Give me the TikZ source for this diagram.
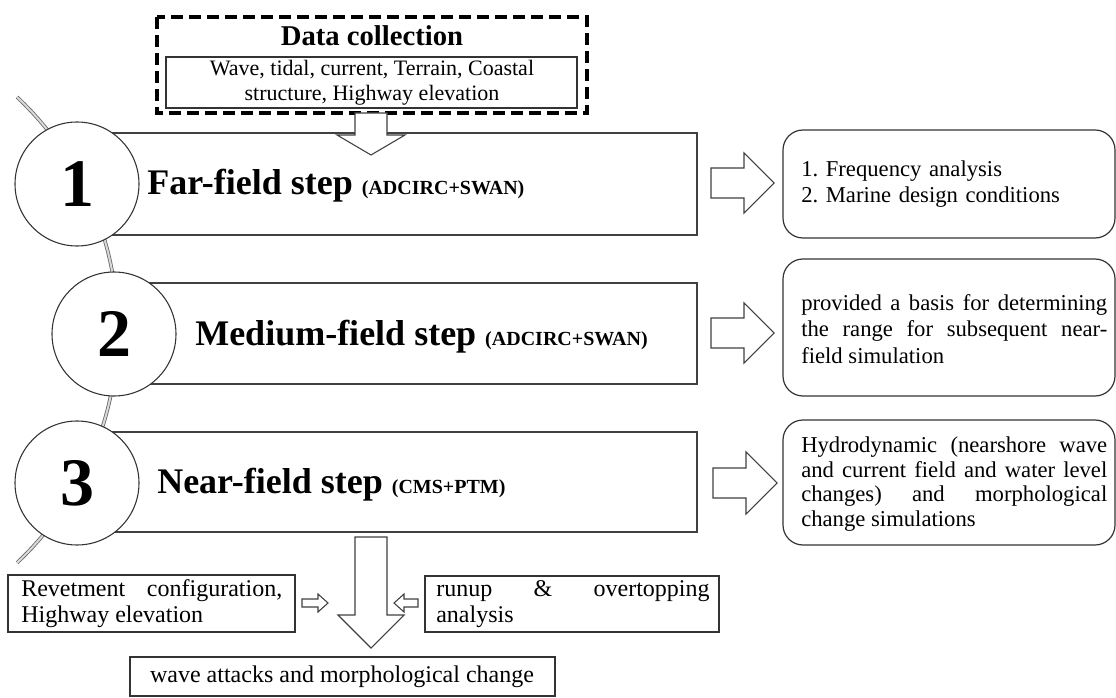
\documentclass[tikz,border=0pt]{standalone}
\usepackage{fontspec}
\setmainfont{Liberation Serif}
\usepackage{tikz}
\usetikzlibrary{calc}
\frenchspacing
\def\blockarrowh(#1,#2)(#3:#4:#5:#6){\draw[hollow] (#1,#2-#5) -- (#3,#2-#5) -- (#3,#2-#6) -- (#4,#2) -- (#3,#2+#6) -- (#3,#2+#5) -- (#1,#2+#5) -- cycle;}
\def\blockarrowv(#1,#2)(#3:#4:#5:#6){\draw[hollow] (#1-#5,#2) -- (#1-#5,#3) -- (#1-#6,#3) -- (#1,#4) -- (#1+#6,#3) -- (#1+#5,#3) -- (#1+#5,#2) -- cycle;}

\begin{document}
\begin{tikzpicture}[x=0.75pt, y=-0.75pt,
	hollow/.style={draw=black!75, line width=0.8pt, fill=white},
	stepbox/.style={draw=black!75, line width=1pt},
	thinbox/.style={draw=black!80, line width=0.8pt},
	outbox/.style={draw=black!80, line width=0.9pt, rounded corners=15pt},
	dashbox/.style={draw=black, line width=2.7pt, dash pattern=on 9pt off 4.5pt},
	rod/.style={draw=black!60, double=black!15, line width=0.6pt, double distance=1.5pt},
	numcircle/.style={circle, draw=black!80, line width=0.8pt, fill=white, minimum size=93pt, inner sep=0pt, font=\fontsize{51}{51}\selectfont\bfseries},
	steptext/.style={anchor=base west, inner sep=0pt, font=\fontsize{27}{30}\selectfont\bfseries},
	outtext/.style={anchor=west, inner sep=0pt, text width=229.5pt, align=justify, font=\fontsize{17}{20}\selectfont},
	boxtext/.style={anchor=west, inner sep=0pt, align=justify, font=\fontsize{18}{19}\selectfont}]
			%%%%% START %%%%%
			\useasboundingbox (0,0) rectangle (1116,698);
			
			% the rod through the three steps
			\draw[rod] plot[domain=-46.7:46.7, samples=50] ({-202.4+320*cos(\x)}, {329.9+320*sin(\x)});
			
			% data collection
			\draw[dashbox] (157,17) rectangle (587,113);
			\node[font=\fontsize{21.5}{24}\selectfont\bfseries] (datatitle) at (372,36) {Data collection};
			\draw[thinbox] (166,57) rectangle (577,108);
			\node[align=center, inner sep=0pt, font=\fontsize{16.5}{18.75}\selectfont] (datalist) at (372,82.5) {Wave, tidal, current, Terrain, Coastal\\structure, Highway elevation};
			
			% steps
			\draw[stepbox] (77,133) rectangle (697,235);
			\draw[stepbox] (114,283) rectangle (697,384);
			\draw[stepbox] (77,432) rectangle (697,532);
			
			\blockarrowv(371,113)(135:155:16:34)
			
			\node[numcircle] (num1) at (77,184) {1};
			\node[numcircle] (num2) at (114,334) {2};
			\node[numcircle] (num3) at (77,483) {3};
			
			\node[steptext] (far) at (147,195) {Far-field step {\fontsize{15}{18}\selectfont(ADCIRC+SWAN)}};
			\node[steptext] (medium) at (195,345) {Medium-field step {\fontsize{15}{18}\selectfont(ADCIRC+SWAN)}};
			\node[steptext] (near) at (157,493) {Near-field step {\fontsize{15}{18}\selectfont(CMS+PTM)}};
			
			% results
			\blockarrowh(711,183)(744:774:15:30)
			\blockarrowh(711,333)(744:774:15:30)
			\blockarrowh(713,483)(746:777:15:31)
			
			\draw[outbox] (783,130) rectangle (1115,238);
			\draw[outbox] (783,259) rectangle (1115,396);
			\draw[outbox] (783,420) rectangle (1115,545);
			
			\node[outtext, align=left] (res1) at (801,184) {1. Frequency analysis\\2. Marine design conditions};
			\node[outtext] (res2) at (801,329) {provided a basis for determining\linebreak the range for subsequent near-\linebreak field simulation};
			\node[outtext, font=\fontsize{17}{18.5}\selectfont] (res3) at (801,484) {Hydrodynamic (nearshore wave\linebreak and current field and water level\linebreak changes) and morphological\linebreak change simulations};
			
			% assessment
			\blockarrowv(371,537)(615:648:16:33)
			
			\draw[thinbox] (8,575) rectangle (295,632);
			\node[boxtext, text width=195.75pt] (revet) at (21,603.5) {Revetment configuration,\linebreak Highway elevation};
			\blockarrowh(302,603)(318:328:4:9)
			
			\draw[thinbox] (425,576) rectangle (719,632);
			\node[boxtext, text width=205pt] (runup) at (436,604) {runup \& overtopping\linebreak analysis};
			\blockarrowh(418,603)(404:394:4:9)
			
			\draw[thinbox] (130,657) rectangle (555,696);
			\node[font=\fontsize{18}{20}\selectfont] (attack) at (342,677) {wave attacks and morphological change};
			
			%%%%% END %%%%%
\end{tikzpicture}
\end{document}
